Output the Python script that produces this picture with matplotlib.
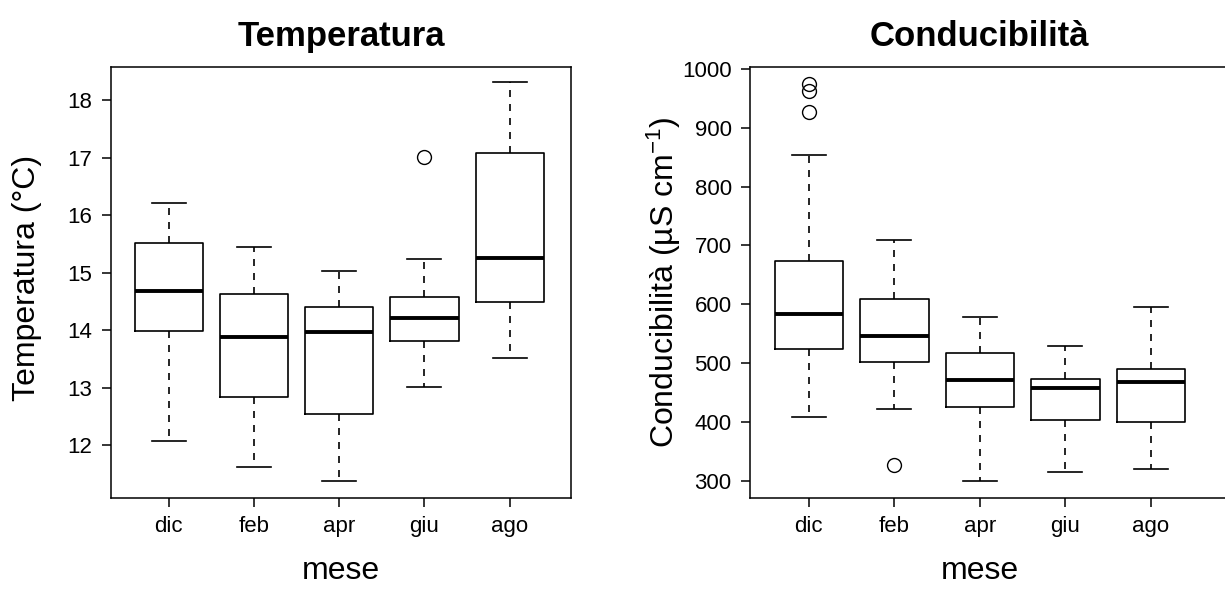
import numpy as np
import matplotlib
matplotlib.use('Agg')
import matplotlib.pyplot as plt

plt.rcParams['font.family'] = ['Liberation Sans', 'DejaVu Sans']
plt.rcParams['mathtext.fontset'] = 'custom'
plt.rcParams['mathtext.rm'] = 'Liberation Sans'
plt.rcParams['mathtext.it'] = 'Liberation Sans:italic'

# months
mesi = ['dic', 'feb', 'apr', 'giu', 'ago']

# Temperatura (°C) five-number summaries
temp_whislo = [12.08, 11.63, 11.39, 13.02, 13.52]
temp_q1 = [13.99, 12.85, 12.54, 13.82, 14.50]
temp_med = [14.69, 13.89, 13.97, 14.22, 15.26]
temp_q3 = [15.52, 14.63, 14.40, 14.58, 17.08]
temp_whishi = [16.22, 15.44, 15.03, 15.24, 18.32]
temp_fliers = [[], [], [], [17.01], []]

# Conducibilita (uS/cm)
cond_whislo = [409, 422, 300, 315, 321]
cond_q1 = [525, 503, 426, 403, 400]
cond_med = [584, 547, 471, 458, 468]
cond_q3 = [674, 609, 517, 474, 490]
cond_whishi = [853, 709, 578, 530, 595]
cond_fliers = [[975, 963, 927], [327], [], [], []]


def make_stats(lo, q1, med, q3, hi, fl):
    stats = []
    for i in range(len(mesi)):
        stats.append({'whislo': lo[i], 'q1': q1[i], 'med': med[i], 'q3': q3[i],
                      'whishi': hi[i], 'fliers': fl[i], 'label': mesi[i]})
    return stats


def draw_box(ax, stats):
    ax.bxp(stats, positions=range(1, 6), widths=0.8, capwidths=0.4,
           boxprops=dict(color='black', linewidth=1.2),
           medianprops=dict(color='black', linewidth=2.8, solid_capstyle='butt'),
           whiskerprops=dict(color='black', linewidth=1.2, linestyle=(0, (4.2, 4.2))),
           capprops=dict(color='black', linewidth=1.2),
           flierprops=dict(marker='o', markerfacecolor='none', markeredgecolor='black',
                           markersize=10, markeredgewidth=1.0))
    ax.tick_params(axis='both', labelsize=16, length=6.5, width=1.1, pad=7)
    for s in ax.spines.values():
        s.set_linewidth(1.1)


fig = plt.figure(figsize=(12.25, 5.89), dpi=100)

# left panel
ax1 = fig.add_axes([0.0906, 0.1552, 0.3755, 0.731])
draw_box(ax1, make_stats(temp_whislo, temp_q1, temp_med, temp_q3, temp_whishi, temp_fliers))
ax1.set_xlim(0.32, 5.72)
ax1.set_ylim(11.095, 18.575)
ax1.set_yticks([12, 13, 14, 15, 16, 17, 18])
ax1.set_xticks(range(1, 6))
ax1.set_xticklabels(mesi)
ax1.set_title('Temperatura', fontsize=25, fontweight='bold', pad=15)
ax1.set_xlabel('mese', fontsize=23)
ax1.xaxis.set_label_coords(0.5, -0.19)
ax1.xaxis.label.set_va('baseline')
ax1.set_ylabel('Temperatura (°C)', fontsize=23)
ax1.yaxis.set_label_coords(-0.183, 0.51)
ax1.yaxis.label.set_va('center')

# right panel (cropped at the right edge of the picture)
x_left = 750.4
x_right = 1260.0
tick1 = 808.9
step = 85.5
ax2 = fig.add_axes([x_left / 1225, 0.1552, (x_right - x_left) / 1225, 0.731])
draw_box(ax2, make_stats(cond_whislo, cond_q1, cond_med, cond_q3, cond_whishi, cond_fliers))
ax2.set_xlim(1 - (tick1 - x_left) / step, 1 + (x_right - tick1) / step)
ax2.set_ylim(272, 1003)
ax2.set_yticks(range(300, 1001, 100))
ax2.set_xticks(range(1, 6))
ax2.set_xticklabels(mesi)
ax2.spines['right'].set_visible(False)
ax2.set_title('Conducibilità', fontsize=25, fontweight='bold', pad=15,
              x=(979.5 - x_left) / (x_right - x_left))
ax2.set_xlabel('mese', fontsize=23)
ax2.xaxis.set_label_coords((979.5 - x_left) / (x_right - x_left), -0.19)
ax2.xaxis.label.set_va('baseline')
ax2.set_ylabel('Conducibilità (µS cm$^{-1}$)', fontsize=23)
ax2.yaxis.set_label_coords(-0.169, 0.5)
ax2.yaxis.label.set_va('center')

fig.savefig('out.png', dpi=100)
